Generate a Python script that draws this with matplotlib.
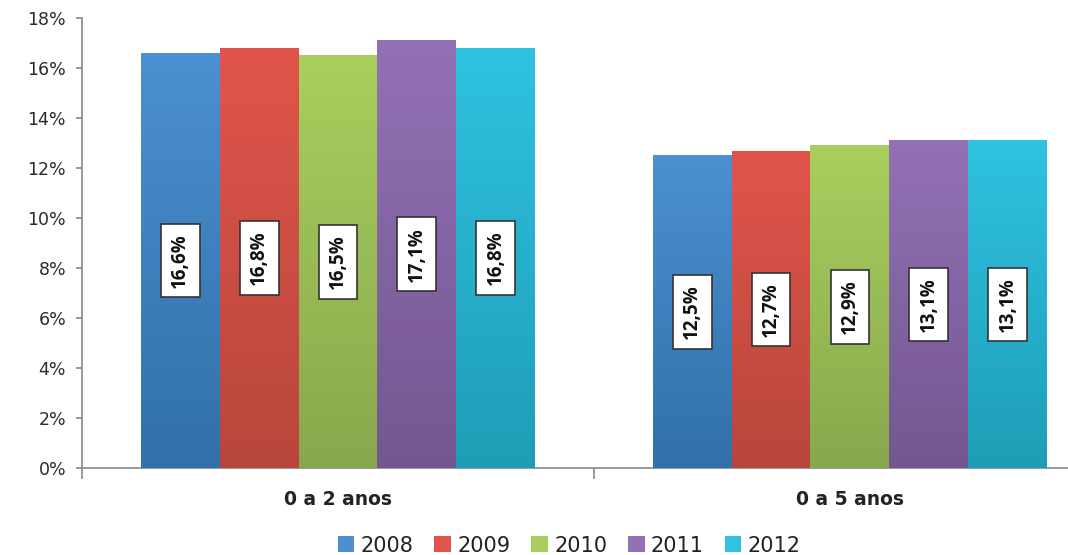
import numpy as np
import matplotlib
matplotlib.use("Agg")
import matplotlib.pyplot as plt
from matplotlib.colors import LinearSegmentedColormap
from matplotlib.patches import Patch

plt.rcParams['font.family'] = ['DejaVu Sans']

categories = ["0 a 2 anos", "0 a 5 anos"]
years = ["2008", "2009", "2010", "2011", "2012"]
values = {
    "2008": [16.6, 12.5],
    "2009": [16.8, 12.7],
    "2010": [16.5, 12.9],
    "2011": [17.1, 13.1],
    "2012": [16.8, 13.1],
}
# top (light) and bottom (dark) colour for each series
top_colors = ["#4b90d0", "#e0554b", "#a8cf5e", "#9272b5", "#2fc2e1"]
bottom_colors = ["#3170aa", "#b8463c", "#88a84c", "#745690", "#1f9db6"]

fig = plt.figure(figsize=(10.68, 5.55), dpi=100)
ax = fig.add_axes([82 / 1068, 87 / 555, 986 / 1068, 450 / 555])

x = np.arange(len(categories))
bar_w = 0.154
offsets = (np.arange(len(years)) - 2) * bar_w

for i, year in enumerate(years):
    cmap = LinearSegmentedColormap.from_list(year, [bottom_colors[i], top_colors[i]])
    bars = ax.bar(x + offsets[i], values[year], width=bar_w, color=top_colors[i],
                  zorder=2, linewidth=0)
    for bar, v in zip(bars, values[year]):
        x0 = bar.get_x()
        grad = np.linspace(0, 1, 256).reshape(-1, 1)
        im = ax.imshow(grad, cmap=cmap, origin="lower", aspect="auto",
                       extent=(x0, x0 + bar.get_width(), 0, v), zorder=3)
        im.set_clip_path(bar)
        label = f"{v:.1f}%".replace(".", ",")
        ax.text(bar.get_x() + bar.get_width() / 2, v / 2, label, rotation=90,
                ha="center", va="center", fontsize=13.5, fontweight="bold",
                family="Open Sans", color="#111111", zorder=5,
                bbox=dict(boxstyle="square,pad=0.5", fc="white", ec="#333333", lw=1.2))

ax.set_xlim(-0.5, 1.426)
ax.set_ylim(0, 18)
ax.set_yticks(np.arange(0, 19, 2))
ax.set_yticklabels([f"{t}%" for t in range(0, 19, 2)], fontsize=12.5, color="#2a2a2a")
ax.set_xticks(x)
ax.set_xticklabels(categories, fontsize=13.5, fontweight="bold", color="#222222")
ax.tick_params(axis="x", length=0, pad=16)
ax.tick_params(axis="y", length=4.5, color="#888888", width=1.2, pad=7)
ax.set_xticks([-0.5, 0.5], minor=True)
ax.tick_params(axis="x", which="minor", length=8, color="#888888", width=1.2)

for side in ["top", "right"]:
    ax.spines[side].set_visible(False)
for side in ["left", "bottom"]:
    ax.spines[side].set_color("#888888")
    ax.spines[side].set_linewidth(1.2)

handles = [Patch(facecolor=c, edgecolor="none") for c in top_colors]
fig.legend(handles, years, loc="lower center", bbox_to_anchor=(0.533, -0.035), ncol=5,
           frameon=False, fontsize=15, handlelength=0.8, handleheight=0.8,
           handletextpad=0.3, columnspacing=1.0, labelcolor="#222222")

fig.savefig("out.png", dpi=100)
